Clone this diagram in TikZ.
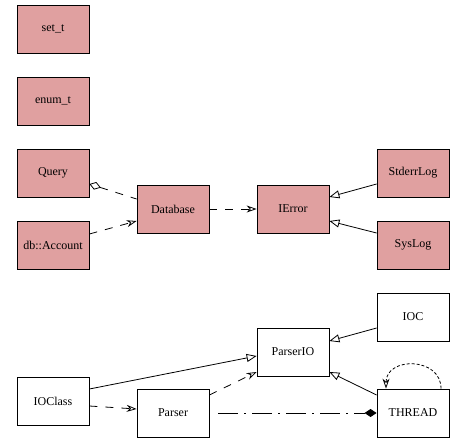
\documentclass[tikz,border=0pt]{standalone}
\usepackage{fontspec}
\setmainfont{Liberation Serif}
\usetikzlibrary{arrows.meta}
\definecolor{classred}{RGB}{224,160,160}
\begin{document}
\begin{tikzpicture}[x=1pt,y=-1pt,line width=0.8pt,
    cls/.style={draw,minimum width=72pt,minimum height=48pt,inner sep=0pt,font=\fontsize{12}{14}\selectfont},
    dbcls/.style={cls,fill=classred},
    dep/.style={dash pattern=on 8pt off 8pt,-{Stealth[open,length=10pt,width=7pt]}},
    inherit/.style={-{Triangle[open,length=10pt,width=8pt]}}]
    \useasboundingbox (0,0) rectangle (465,444);
    %% Classes
    \node[dbcls] (sett) at (53,29) {set\_t};
    \node[dbcls] (enumt) at (53,101) {enum\_t};
    \node[dbcls] (query) at (53,173) {Query};
    \node[dbcls] (account) at (53,245) {db::Account};
    \node[dbcls] (database) at (173,209) {Database};
    \node[dbcls] (ierror) at (293,209) {IError};
    \node[dbcls] (stderrlog) at (413,173) {StderrLog};
    \node[dbcls] (syslog) at (413,245) {SysLog};
    \node[cls] (ioc) at (413,317) {IOC};
    \node[cls] (parserio) at (293,352) {ParserIO};
    \node[cls] (ioclass) at (53,401) {IOClass};
    \node[cls] (parser) at (173,413) {Parser};
    \node[cls] (thread) at (413,413) {THREAD};
    %% Relations
    \draw[dash pattern=on 8pt off 8pt,{Diamond[open,length=12pt,width=8pt]}-] ([yshift=-11pt]query.east) -- ([yshift=10pt]database.west);
    \draw[dep] ([yshift=11pt]account.east) -- ([yshift=-12pt]database.west);
    \draw[dep] (database.east) -- (ierror.west);
    \draw[inherit] ([yshift=-11pt]stderrlog.west) -- ([yshift=12pt]ierror.east);
    \draw[inherit] ([yshift=12pt]syslog.west) -- ([yshift=-12pt]ierror.east);
    \draw[inherit] ([yshift=-11pt]ioc.west) -- ([yshift=11pt]parserio.east);
    \draw[inherit] ([yshift=18pt]thread.west) -- ([yshift=-20pt]parserio.east);
    \draw[inherit] ([yshift=12pt]ioclass.east) -- ([yshift=-4pt]parserio.west);
    \draw[dep] ([yshift=-5pt]ioclass.east) -- ([yshift=4pt]parser.west);
    \draw[dep] ([yshift=18pt]parser.east) -- ([yshift=-20pt]parserio.west);
    \draw[dash pattern=on 20pt off 6pt on 2pt off 6pt,-{Diamond[length=12pt,width=8pt]}] ([xshift=9pt]parser.east) -- (thread.west);
    \draw[dash pattern=on 3pt off 2pt,-{Stealth[open,length=10pt,width=7pt]}] ([xshift=28pt]thread.north) .. controls +(0,-32) and +(0,-32) .. ([xshift=-27pt]thread.north);
\end{tikzpicture}
\end{document}
